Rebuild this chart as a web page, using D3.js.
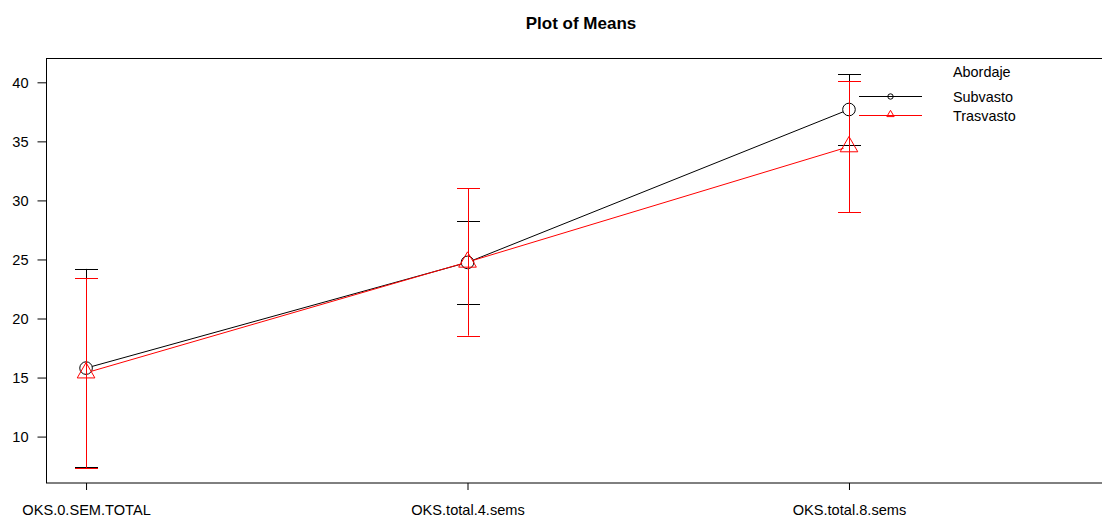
<!DOCTYPE html>
<html>
<head>
<meta charset="utf-8">
<script src="https://cdn.jsdelivr.net/npm/d3@7"></script>
<style>
    body { margin: 0; background: #fff; }
    svg { display: block; font-family: "Liberation Sans", Arial, sans-serif; }
</style>
</head>
<body>
<svg id="chart" width="1102" height="519"></svg>
<script>
// data
var categories = ['OKS.0.SEM.TOTAL', 'OKS.total.4.sems', 'OKS.total.8.sems'];
var yTicks = [10, 15, 20, 25, 30, 35, 40];

var subvastoMean = [15.8, 24.75, 37.7];
var subvastoLow = [7.45, 21.23, 34.7];
var subvastoHigh = [24.2, 28.28, 40.7];

var trasvastoMean = [15.4, 24.78, 34.55];
var trasvastoLow = [7.35, 18.55, 29.0];
var trasvastoHigh = [23.43, 31.02, 40.08];

var series = [
    {key: 'Subvasto', color: '#000000', shape: 'circle', mean: subvastoMean, low: subvastoLow, high: subvastoHigh},
    {key: 'Trasvasto', color: '#ff0000', shape: 'triangle', mean: trasvastoMean, low: trasvastoLow, high: trasvastoHigh}
];

var svg = d3.select('#chart');

// plot region (R style, right edge runs past the window)
var x = d3.scaleLinear().domain([0.895, 3.70]).range([46, 1116]);
var y = d3.scaleLinear().domain([6.07, 42.06]).range([483, 58]);

// box
svg.append('line').attr('x1', 46).attr('x2', 1116).attr('y1', 58.5).attr('y2', 58.5).attr('stroke', '#000');
svg.append('line').attr('x1', 46).attr('x2', 1116).attr('y1', 483).attr('y2', 483).attr('stroke', '#000');
svg.append('line').attr('x1', 46.5).attr('x2', 46.5).attr('y1', 58).attr('y2', 483).attr('stroke', '#000');

// y axis
var yAxis = d3.axisLeft(y).tickValues(yTicks).tickSize(9).tickPadding(9).tickFormat(d3.format('d'));
var gy = svg.append('g').attr('transform', 'translate(46.5,0)').call(yAxis);
gy.select('.domain').remove();
gy.selectAll('text').attr('font-size', '14.6px').attr('fill', '#000').attr('font-family', null);

// x axis
var xAxis = d3.axisBottom(x).tickValues([1, 2, 3]).tickSize(7).tickPadding(15)
    .tickFormat(function (d) { return categories[d - 1]; });
var gx = svg.append('g').attr('transform', 'translate(0,483)').call(xAxis);
gx.select('.domain').remove();
gx.selectAll('text').attr('font-size', '14.6px').attr('fill', '#000').attr('font-family', null);

// title
svg.append('text')
    .attr('x', 581).attr('y', 29)
    .attr('text-anchor', 'middle')
    .attr('font-size', '17px').attr('font-weight', 'bold')
    .text('Plot of Means');

function marker(g, shape, cx, cy, r, color) {
    if (shape === 'circle') {
        g.append('circle').attr('cx', cx).attr('cy', cy).attr('r', r)
            .attr('fill', 'none').attr('stroke', color);
    } else {
        var xc = r * Math.sqrt(3) / 2;
        g.append('path')
            .attr('d', 'M' + cx + ',' + (cy - r) + 'L' + (cx + xc) + ',' + (cy + r / 2) + 'L' + (cx - xc) + ',' + (cy + r / 2) + 'Z')
            .attr('fill', 'none').attr('stroke', color);
    }
}

var plot = svg.append('g');

series.forEach(function (s) {
    var r = s.shape === 'circle' ? 6.3 : 10.2;
    var pts = s.mean.map(function (m, i) { return [x(i + 1), y(m)]; });

    // connecting segments, leaving a gap at the symbols
    for (var i = 0; i < pts.length - 1; i++) {
        var a = pts[i], b = pts[i + 1];
        var dx = b[0] - a[0], dy = b[1] - a[1];
        var len = Math.sqrt(dx * dx + dy * dy);
        var gap = s.shape === 'circle' ? r : r * 0.55;
        plot.append('line')
            .attr('x1', a[0] + dx / len * gap).attr('y1', a[1] + dy / len * gap)
            .attr('x2', b[0] - dx / len * gap).attr('y2', b[1] - dy / len * gap)
            .attr('stroke', s.color).attr('stroke-width', 1);
    }

    pts.forEach(function (p) { marker(plot, s.shape, p[0], p[1], r, s.color); });

    // error bars
    s.mean.forEach(function (m, i) {
        var cx = Math.round(x(i + 1)) + 0.5;
        plot.append('line')
            .attr('x1', cx).attr('x2', cx)
            .attr('y1', y(s.low[i])).attr('y2', y(s.high[i]))
            .attr('stroke', s.color);
        [s.low[i], s.high[i]].forEach(function (v) {
            plot.append('line')
                .attr('x1', cx - 11.5).attr('x2', cx + 11.5)
                .attr('y1', Math.round(y(v)) + 0.5).attr('y2', Math.round(y(v)) + 0.5)
                .attr('stroke', s.color);
        });
    });
});

// legend
var legend = svg.append('g');
legend.append('text').attr('x', 953).attr('y', 77).attr('font-size', '14.4px').text('Abordaje');
series.forEach(function (s, i) {
    var ly = 96.5 + i * 19;
    legend.append('line').attr('x1', 859).attr('x2', 922).attr('y1', ly).attr('y2', ly).attr('stroke', s.color);
    marker(legend, s.shape, 890.5, s.shape === 'circle' ? ly : ly - 1, s.shape === 'circle' ? 2.7 : 4.2, s.color);
    legend.append('text').attr('x', 953).attr('y', ly + 5).attr('font-size', '14.4px').text(s.key);
});
</script>
</body>
</html>
